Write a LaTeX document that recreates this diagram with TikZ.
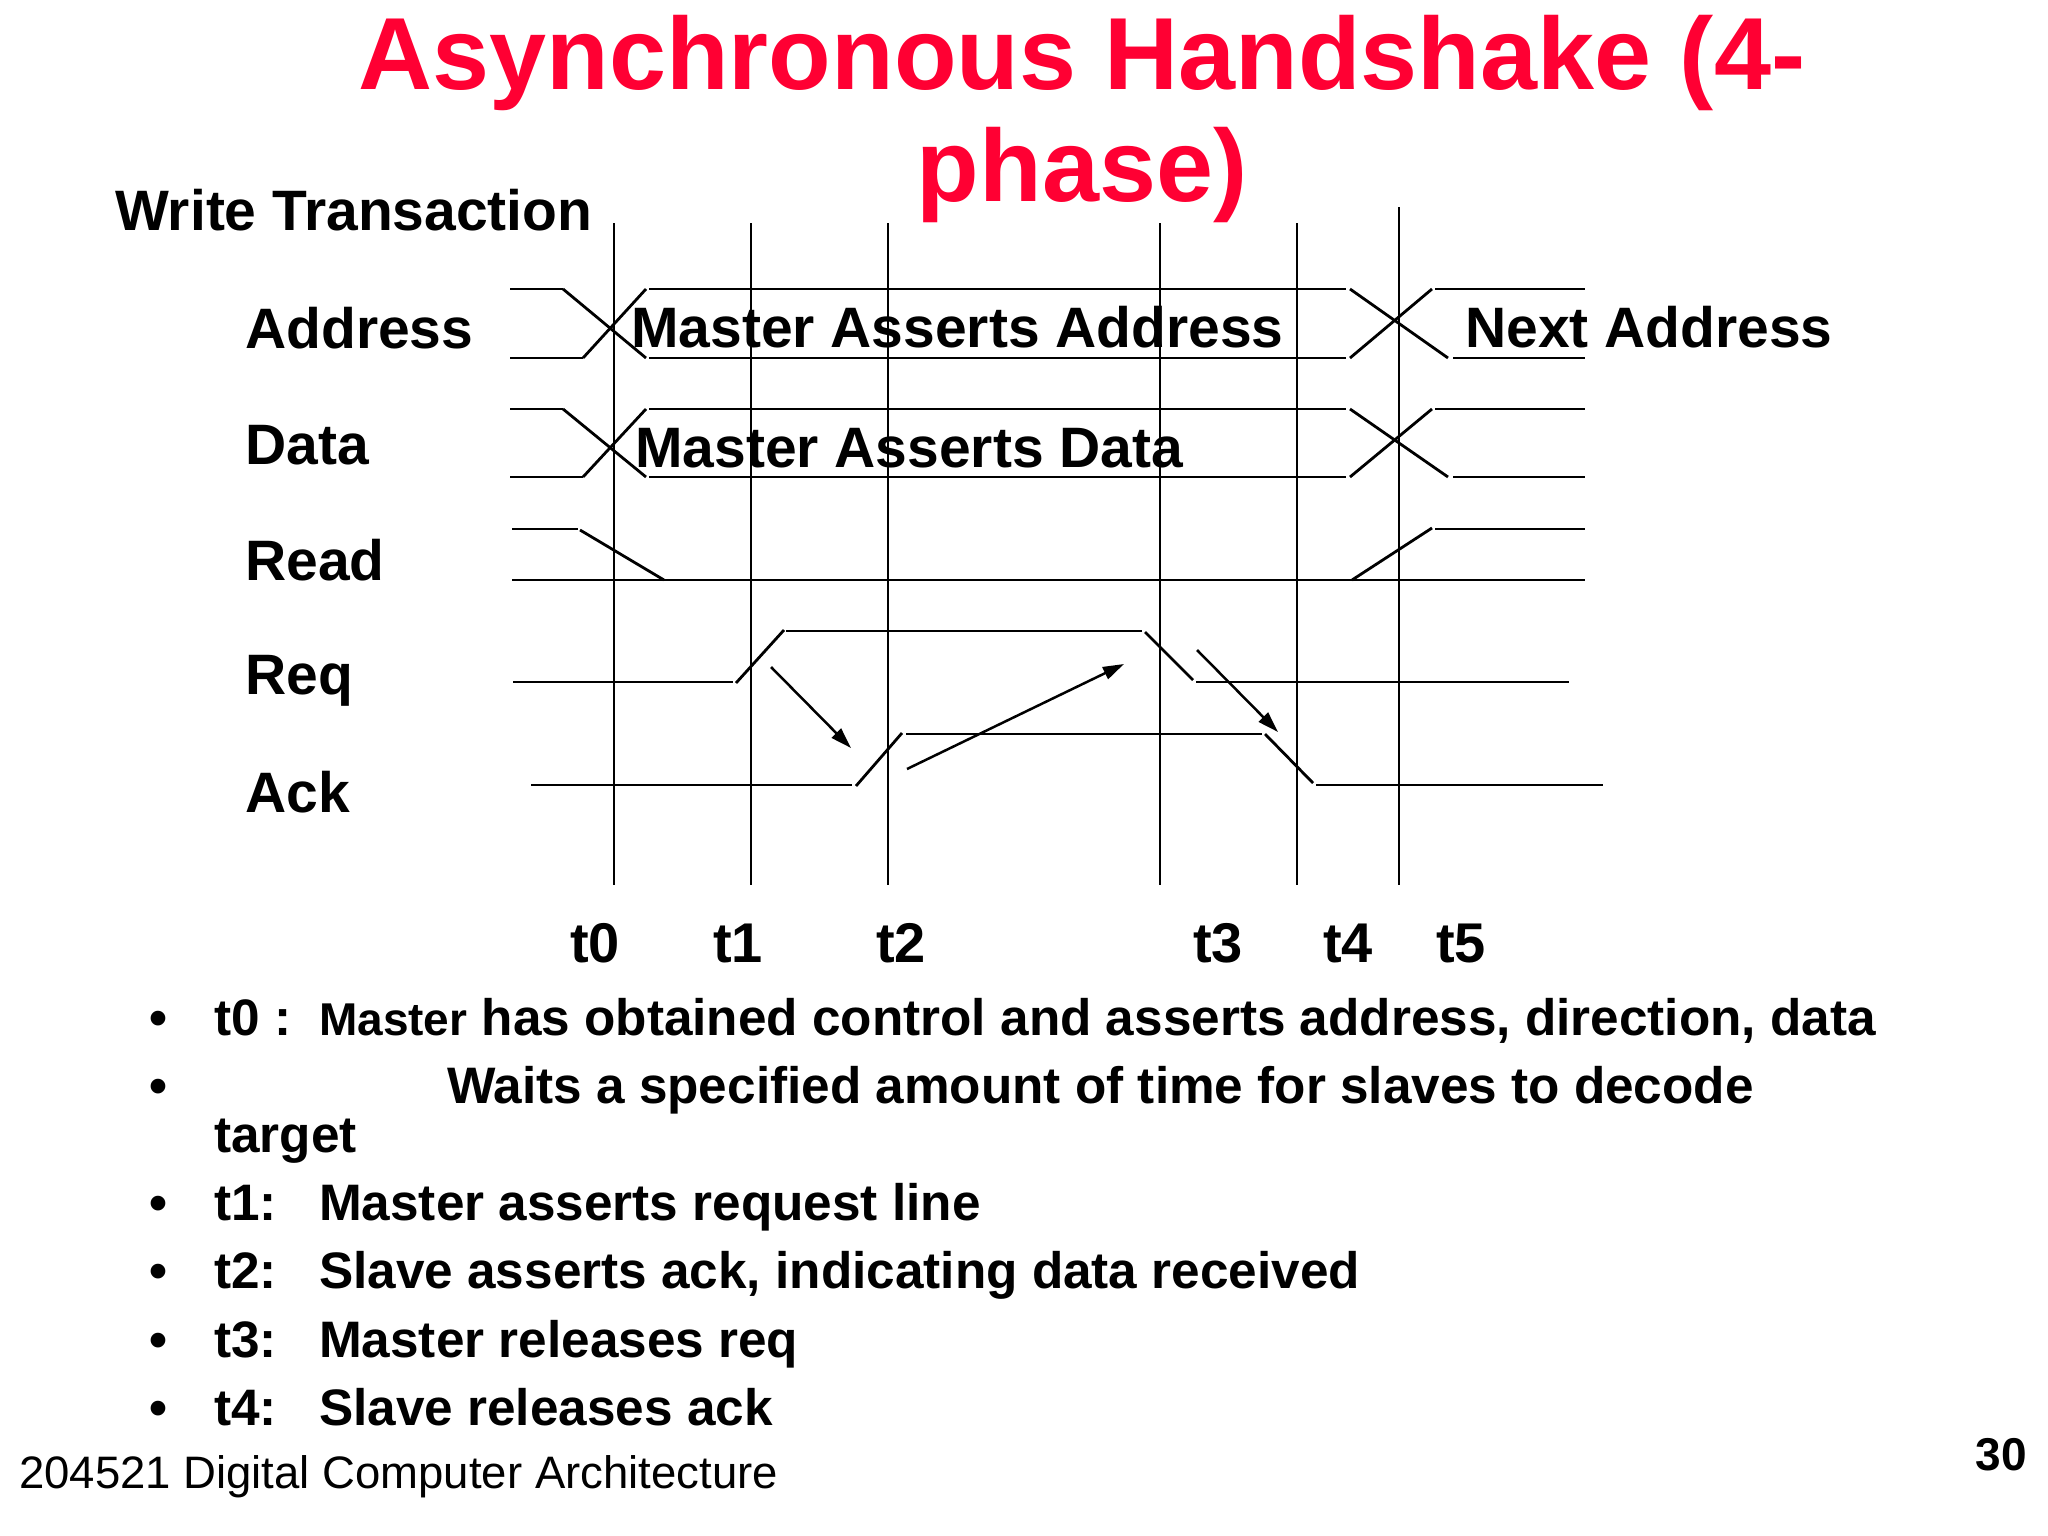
\documentclass[tikz,border=0pt]{standalone}
\usepackage{fontspec}
\setmainfont{Liberation Sans}
\usetikzlibrary{arrows.meta}
\definecolor{titlered}{HTML}{FF0033}
\begin{document}
\begin{tikzpicture}[x=1pt,y=-1pt,
  sig/.style={line width=2.8pt},
  marker/.style={line width=2.2pt},
  cause/.style={line width=2.5pt,-{Triangle[length=21pt,width=13pt]}},
  titletext/.style={inner sep=0pt,anchor=base,text=titlered,font=\fontsize{102.5}{110}\selectfont\bfseries},
  lab/.style={inner sep=0pt,anchor=base west,font=\fontsize{57}{60}\selectfont\bfseries},
  tlab/.style={inner sep=0pt,anchor=base,font=\fontsize{56}{60}\selectfont\bfseries},
  btext/.style={inner sep=0pt,anchor=base west,font=\fontsize{51.3}{55}\selectfont\bfseries},
  bdot/.style={inner sep=0pt,anchor=base,font=\fontsize{51.3}{55}\selectfont\bfseries},
]
\useasboundingbox (0,0) rectangle (2048,1536);
\fill[white] (0,0) rectangle (2048,1536);

% title
\node[titletext] (title1) at (1082,90) {Asynchronous Handshake (4-};
\node[titletext] (title2) at (1082,201) {phase)};

% time markers
\foreach \x/\t in {614/223,751/223,888/223,1160/223,1297/223,1399/207}
  \draw[marker] (\x,\t) -- (\x,885);

% Address and Data buses
\foreach \hi/\lo in {289/358,409/477}{
  \draw[sig] (510,\hi) -- (563,\hi);
  \draw[sig] (510,\lo) -- (583,\lo);
  \draw[sig] (563,\hi) -- (646,\lo);
  \draw[sig] (583,\lo) -- (646,\hi);
  \draw[sig] (649,\hi) -- (1346,\hi);
  \draw[sig] (649,\lo) -- (1346,\lo);
  \draw[sig] (1350,\hi) -- (1448,\lo);
  \draw[sig] (1350,\lo) -- (1432,\hi);
  \draw[sig] (1435,\hi) -- (1585,\hi);
  \draw[sig] (1453,\lo) -- (1585,\lo);
}

% Read
\draw[sig] (512,529) -- (578,529);
\draw[sig] (580,530) -- (664,580);
\draw[sig] (512,580) -- (1585,580);
\draw[sig] (1352,580) -- (1432,528);
\draw[sig] (1435,529) -- (1585,529);

% Req
\draw[sig] (513,682) -- (733,682);
\draw[sig] (736,683) -- (784,630);
\draw[sig] (786,631) -- (1142,631);
\draw[sig] (1145,632) -- (1193,680);
\draw[sig] (1196,682) -- (1569,682);

% Ack
\draw[sig] (531,785) -- (852,785);
\draw[sig] (856,786) -- (902,733);
\draw[sig] (906,734) -- (1262,734);
\draw[sig] (1265,734) -- (1313,783);
\draw[sig] (1316,785) -- (1603,785);

% causality arrows
\coordinate (a1s) at (771,667);
\coordinate (a1e) at (851,748);
\coordinate (a2s) at (907,769);
\coordinate (a2e) at (1124,664);
\coordinate (a3s) at (1197,650);
\coordinate (a3e) at (1278,732);
\draw[cause] (a1s) -- (a1e);
\draw[cause] (a2s) -- (a2e);
\draw[cause] (a3s) -- (a3e);

% labels
\node[lab] (wt) at (115,230) {Write Transaction};
\node[lab] (laddr) at (245,348) {Address};
\node[lab] (ldata) at (245,464) {Data};
\node[lab] (lread) at (245,580) {Read};
\node[lab] (lreq) at (245,694) {Req};
\node[lab] (lack) at (245,812) {Ack};

\node[lab] (maa) at (631,347) {Master Asserts Address};
\node[lab] (mad) at (635,467) {Master Asserts Data};
\node[lab] (na) at (1465,347) {Next Address};

\node[tlab] (t0) at (595,962) {t0};
\node[tlab] (t1) at (738,962) {t1};
\node[tlab] (t2) at (901,962) {t2};
\node[tlab] (t3) at (1218,962) {t3};
\node[tlab] (t4) at (1348,962) {t4};
\node[tlab] (t5) at (1461,962) {t5};

% bullets
\foreach \y [count=\i] in {1035,1103,1220,1288,1357,1425}
  \node[bdot] (b\i) at (158,\y) {•};
\node[btext] (k0) at (214,1035) {t0 :};
\node[btext] (d0) at (319,1035) {{\fontsize{46}{48}\selectfont Master} has obtained control and asserts address, direction, data};
\node[btext] (d0b) at (447,1103) {Waits a specified amount of time for slaves to decode};
\node[btext] (d0c) at (214,1152) {target};
\node[btext] (k1) at (214,1220) {t1:};
\node[btext] (d1) at (319,1220) {Master asserts request line};
\node[btext] (k2) at (214,1288) {t2:};
\node[btext] (d2) at (319,1288) {Slave asserts ack, indicating data received};
\node[btext] (k3) at (214,1357) {t3:};
\node[btext] (d3) at (319,1357) {Master releases req};
\node[btext] (k4) at (214,1425) {t4:};
\node[btext] (d4) at (319,1425) {Slave releases ack};

% footer
\node[inner sep=0pt,anchor=base west,font=\fontsize{45.5}{48}\selectfont] (foot) at (19,1488) {204521 Digital Computer Architecture};
\node[inner sep=0pt,anchor=base east,font=\fontsize{46}{48}\selectfont\bfseries] (page) at (2027,1470) {30};
\end{tikzpicture}
\end{document}
